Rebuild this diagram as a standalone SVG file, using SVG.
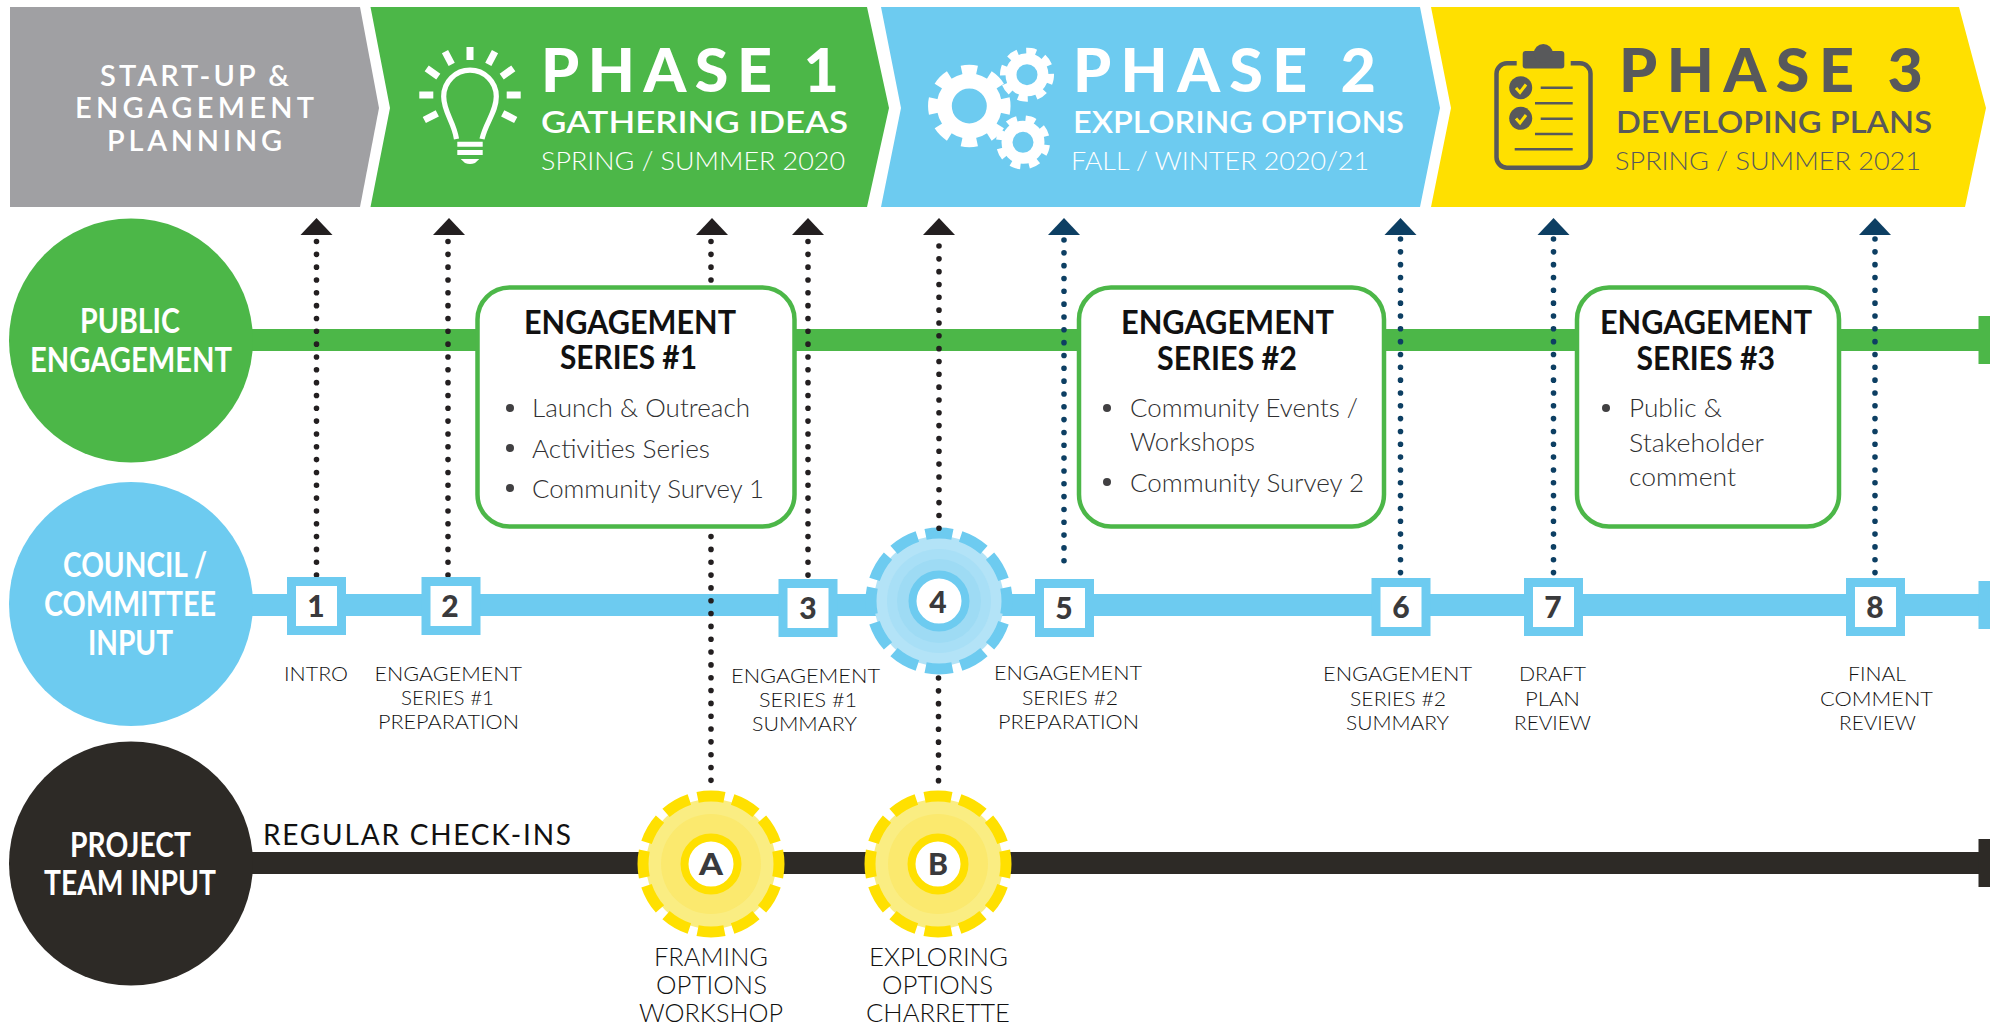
<svg xmlns="http://www.w3.org/2000/svg" width="1999" height="1028" viewBox="0 0 1999 1028">
<style>
text{font-family:"Lato","Liberation Sans",sans-serif}
.w{fill:#fff}.d{fill:#58595b}
.t1{font-size:61px;font-weight:900}
.t2{font-size:30px;font-weight:600}
.t3{font-size:25px;font-weight:300}
.st{font-size:29px;font-weight:600;fill:#fff}
.cl{font-size:35px;font-weight:700;fill:#fff}
.bh{font-size:33px;font-weight:700;fill:#111}
.bt{font-size:26px;font-weight:300;fill:#2f2f31}
.lb{font-size:20.500px;font-weight:300;fill:#111}
.lg{font-size:26px;font-weight:300;fill:#111}
.rc{font-size:28px;font-weight:400;fill:#111}
.num{font-size:30px;font-weight:900;fill:#3a3a3c;text-anchor:middle}
.box{fill:#fff;stroke:#4cb748;stroke-width:4.5}
.sq{fill:#fff;stroke:#6dcbf0;stroke-width:9}
.dot{fill:#414042}
.dk,.nv{fill:none;stroke-width:5.6;stroke-linecap:round;stroke-dasharray:0 12.83}
.dk{stroke:#231f20}.nv{stroke:#0d3f63}
.ak{fill:#231f20}.an{fill:#0d3f63}
.ringb,.ringy{fill:none;stroke-width:11;stroke-dasharray:7.6 2.4;stroke-dashoffset:3.8}
.ringb{stroke:#6dcbf0}.ringy{stroke:#ffe000}
.gt{fill:none;stroke:#fff;stroke-dasharray:5.4 4.6;stroke-dashoffset:2.7}
.gb{fill:none;stroke:#fff}
.ray{stroke:#fff;stroke-width:7;fill:none}
.cb{stroke:#58595b;fill:none;stroke-width:4.5}
.cln{stroke:#58595b;fill:none;stroke-width:2.6}
.chk{stroke:#ffe000;fill:none;stroke-width:3}
</style>

<g id="start-up">
<polygon points="10,7 360,7 379,108 360,207 10,207" fill="#a0a0a3"/>
<text class="st" x="100" y="86" textLength="189" lengthAdjust="spacing">START-UP &amp;</text>
<text class="st" x="75" y="118" textLength="239" lengthAdjust="spacing">ENGAGEMENT</text>
<text class="st" x="107" y="151" textLength="175" lengthAdjust="spacing">PLANNING</text>
</g>

<g id="phase-1">
<polygon points="370.5,7 867,7 889,108 867,207 370.5,207 390,108" fill="#4cb748"/>
<path class="ray" style="stroke-width:5.2" d="M456.5,139C454,122 443.7,112 443.7,96.5A26.3,26.3 0 0 1 496.3,96.5C496.3,112 486,122 482,139"/>
<path class="ray" d="M470,47V60M445,51.7L451.7,64.3M495,51.7L488.3,64.3M426.7,68.3L438.3,76.7M513.3,68.3L501.7,76.7M419.3,95H433.3M520.7,95H506.7M424.3,120L437.3,113.3M515.7,120L502.7,113.3"/>
<path fill="#fff" d="M457.3,141.7H482.7V146.7H457.3ZM457.3,150H482.7V155H457.3ZM460.7,159H479.3L475,163Q470,165 465,163Z"/>
<text class="t1 w" x="541" y="92" textLength="298" lengthAdjust="spacing">PHASE 1</text>
<text class="t2 w" x="541" y="133" textLength="307" lengthAdjust="spacingAndGlyphs">GATHERING IDEAS</text>
<text class="t3 w" x="541" y="170" textLength="304" lengthAdjust="spacingAndGlyphs">SPRING / SUMMER 2020</text>
</g>

<g id="phase-2">
<polygon points="881,7 1420,7 1440,108 1420,207 881,207 901,108" fill="#6dcbf0"/>
<circle class="gb" cx="969.3" cy="106" r="25" stroke-width="15"/>
<circle class="gt" cx="969.3" cy="106" r="36" stroke-width="10.5" pathLength="80"/>
<circle class="gb" cx="1027" cy="74.7" r="16" stroke-width="11"/>
<circle class="gt" cx="1027" cy="74.7" r="23.5" stroke-width="7" pathLength="80" transform="rotate(10 1027 74.7)"/>
<circle class="gb" cx="1023" cy="142.3" r="16" stroke-width="11"/>
<circle class="gt" cx="1023" cy="142.3" r="23.5" stroke-width="7" pathLength="80" transform="rotate(18 1023 142.3)"/>
<text class="t1 w" x="1073" y="92" textLength="303" lengthAdjust="spacing">PHASE 2</text>
<text class="t2 w" x="1073" y="133" textLength="331" lengthAdjust="spacingAndGlyphs">EXPLORING OPTIONS</text>
<text class="t3 w" x="1071" y="170" textLength="298" lengthAdjust="spacingAndGlyphs">FALL / WINTER 2020/21</text>
</g>

<g id="phase-3">
<polygon points="1431,7 1959,7 1986,108 1965,207 1431,207 1451,108" fill="#ffe000"/>
<path class="cb" d="M1516.7,63.3H1507A10.5,10.5 0 0 0 1496.5,73.8V157.2A10.5,10.5 0 0 0 1507,167.7H1580A10.5,10.5 0 0 0 1590.5,157.2V73.8A10.5,10.5 0 0 0 1580,63.3H1570.7"/>
<rect x="1522.7" y="51" width="41.6" height="17.5" rx="3" fill="#58595b"/>
<circle cx="1543.3" cy="53.5" r="9.5" fill="#58595b"/>
<circle cx="1520.7" cy="87.7" r="11.5" fill="#58595b"/>
<circle cx="1520.7" cy="118.3" r="11.5" fill="#58595b"/>
<path class="chk" d="M1516,88L1520,92.5L1526,84.5M1516,118.6L1520,123L1526,115"/>
<path class="cln" d="M1540.7,87.7H1572.7M1535,103.3H1572.7M1540.7,118.7H1572.7M1535,134H1572.7M1514.7,149.3H1572.7"/>
<text class="t1 d" x="1619" y="92" textLength="304" lengthAdjust="spacing">PHASE 3</text>
<text class="t2 d" x="1616" y="133" textLength="316" lengthAdjust="spacingAndGlyphs">DEVELOPING PLANS</text>
<text class="t3 d" x="1615" y="170" textLength="306" lengthAdjust="spacingAndGlyphs">SPRING / SUMMER 2021</text>
</g>

<g id="rails">
<rect x="240" y="329" width="1739" height="22" fill="#4cb748"/>
<rect x="1978.5" y="316" width="11.5" height="48" fill="#4cb748"/>
<rect x="240" y="594" width="1739" height="22" fill="#6dcbf0"/>
<rect x="1978.5" y="581" width="11.5" height="48" fill="#6dcbf0"/>
<rect x="240" y="852" width="1739" height="22" fill="#2d2a26"/>
<rect x="1978.5" y="839" width="11.5" height="48" fill="#2d2a26"/>
<text class="rc" x="263" y="845" textLength="308" lengthAdjust="spacing">REGULAR CHECK-INS</text>
</g>

<g id="public-engagement">
<circle cx="131" cy="340.500" r="122" fill="#4cb748"/>
<text class="cl" x="80" y="333" textLength="100" lengthAdjust="spacingAndGlyphs">PUBLIC</text>
<text class="cl" x="30" y="372" textLength="202" lengthAdjust="spacingAndGlyphs">ENGAGEMENT</text>
</g>
<g id="council-input">
<circle cx="131" cy="604" r="122" fill="#6dcbf0"/>
<text class="cl" x="63" y="577" textLength="144" lengthAdjust="spacingAndGlyphs">COUNCIL /</text>
<text class="cl" x="44" y="616" textLength="172" lengthAdjust="spacingAndGlyphs">COMMITTEE</text>
<text class="cl" x="88" y="655" textLength="85" lengthAdjust="spacingAndGlyphs">INPUT</text>
</g>
<g id="project-team-input">
<circle cx="131" cy="863.500" r="122" fill="#2d2a26"/>
<text class="cl" x="70" y="857" textLength="121" lengthAdjust="spacingAndGlyphs">PROJECT</text>
<text class="cl" x="44" y="895" textLength="172" lengthAdjust="spacingAndGlyphs">TEAM INPUT</text>
</g>

<g id="node-4">
<circle cx="939" cy="601" r="65" fill="#b3e3f7"/>
<circle cx="939" cy="601" r="52" fill="#a8dff6"/>
<circle cx="939" cy="601" r="42" fill="#9edbf4"/>
<circle cx="939" cy="601" r="68" class="ringb" pathLength="120"/>
<circle cx="939" cy="601" r="26.500" fill="#fff" stroke="#6dcbf0" stroke-width="8"/>
<text class="num" x="938" y="613">4</text>
</g>
<g id="node-a">
<circle cx="711" cy="864" r="65" fill="#faed82"/>
<circle cx="711" cy="864" r="50" fill="#fbe96e"/>
<circle cx="711" cy="864" r="68" class="ringy" pathLength="120"/>
<circle cx="711" cy="864" r="26.500" fill="#fff" stroke="#ffe000" stroke-width="8"/>
<text class="num" x="699" y="875" textLength="24" lengthAdjust="spacingAndGlyphs" style="text-anchor:start">A</text>
<text class="lg" x="654" y="966" textLength="114" lengthAdjust="spacingAndGlyphs">FRAMING</text>
<text class="lg" x="656" y="994" textLength="111" lengthAdjust="spacingAndGlyphs">OPTIONS</text>
<text class="lg" x="639" y="1022" textLength="144" lengthAdjust="spacingAndGlyphs">WORKSHOP</text>
</g>
<g id="node-b">
<circle cx="938" cy="864" r="65" fill="#faed82"/>
<circle cx="938" cy="864" r="50" fill="#fbe96e"/>
<circle cx="938" cy="864" r="68" class="ringy" pathLength="120"/>
<circle cx="938" cy="864" r="26.500" fill="#fff" stroke="#ffe000" stroke-width="8"/>
<text class="num" x="928" y="875" textLength="20" lengthAdjust="spacingAndGlyphs" style="text-anchor:start">B</text>
<text class="lg" x="869" y="966" textLength="139" lengthAdjust="spacingAndGlyphs">EXPLORING</text>
<text class="lg" x="882" y="994" textLength="111" lengthAdjust="spacingAndGlyphs">OPTIONS</text>
<text class="lg" x="866" y="1022" textLength="144" lengthAdjust="spacingAndGlyphs">CHARRETTE</text>
</g>

<g id="connectors">
<line class="dk" x1="316.500" y1="241.500" x2="316.500" y2="578"/>
<line class="dk" x1="448" y1="241.500" x2="448" y2="578"/>
<line class="dk" x1="711" y1="241.500" x2="711" y2="793"/>
<line class="dk" x1="808" y1="241.500" x2="808" y2="578"/>
<line class="dk" x1="939" y1="246" x2="939" y2="530"/>
<line class="dk" x1="938.500" y1="678" x2="938.500" y2="781"/>
<line class="nv" x1="1064" y1="240" x2="1064" y2="562"/>
<line class="nv" x1="1400.500" y1="239" x2="1400.500" y2="578"/>
<line class="nv" x1="1553.500" y1="239" x2="1553.500" y2="578"/>
<line class="nv" x1="1875" y1="239" x2="1875" y2="578"/>
<polygon class="ak" points="316.500,218 332.500,235 300.500,235"/>
<polygon class="ak" points="449,218 465,235 433,235"/>
<polygon class="ak" points="712,218 728,235 696,235"/>
<polygon class="ak" points="808,218 824,235 792,235"/>
<polygon class="ak" points="939,218 955,235 923,235"/>
<polygon class="an" points="1064,218 1080,235 1048,235"/>
<polygon class="an" points="1400.500,218 1416.500,235 1384.500,235"/>
<polygon class="an" points="1553.500,218 1569.500,235 1537.500,235"/>
<polygon class="an" points="1875,218 1891,235 1859,235"/>
</g>

<g id="series-1">
<rect class="box" x="477.500" y="287.500" width="317" height="239" rx="32"/>
<text class="bh" x="524" y="334" textLength="212" lengthAdjust="spacingAndGlyphs">ENGAGEMENT</text>
<text class="bh" x="560" y="369" textLength="137" lengthAdjust="spacingAndGlyphs">SERIES #1</text>
<circle class="dot" cx="510" cy="408" r="4"/><circle class="dot" cx="510" cy="448" r="4"/><circle class="dot" cx="510" cy="488" r="4"/>
<text class="bt" x="532" y="417" textLength="218" lengthAdjust="spacingAndGlyphs">Launch &amp; Outreach</text>
<text class="bt" x="532" y="458" textLength="178" lengthAdjust="spacingAndGlyphs">Activities Series</text>
<text class="bt" x="532" y="498" textLength="232" lengthAdjust="spacingAndGlyphs">Community Survey 1</text>
</g>
<g id="series-2">
<rect class="box" x="1079" y="287.500" width="305" height="239" rx="32"/>
<text class="bh" x="1121" y="334" textLength="213" lengthAdjust="spacingAndGlyphs">ENGAGEMENT</text>
<text class="bh" x="1157" y="370" textLength="140" lengthAdjust="spacingAndGlyphs">SERIES #2</text>
<circle class="dot" cx="1107" cy="408" r="4"/><circle class="dot" cx="1107" cy="482" r="4"/>
<text class="bt" x="1130" y="417" textLength="228" lengthAdjust="spacingAndGlyphs">Community Events /</text>
<text class="bt" x="1130" y="451" textLength="125" lengthAdjust="spacingAndGlyphs">Workshops</text>
<text class="bt" x="1130" y="492" textLength="234" lengthAdjust="spacingAndGlyphs">Community Survey 2</text>
</g>
<g id="series-3">
<rect class="box" x="1577" y="287.500" width="262" height="239" rx="32"/>
<text class="bh" x="1600" y="334" textLength="212" lengthAdjust="spacingAndGlyphs">ENGAGEMENT</text>
<text class="bh" x="1636.500" y="370" textLength="138.500" lengthAdjust="spacingAndGlyphs">SERIES #3</text>
<circle class="dot" cx="1606" cy="408" r="4"/>
<text class="bt" x="1629" y="417" textLength="93" lengthAdjust="spacingAndGlyphs">Public &amp;</text>
<text class="bt" x="1629" y="452" textLength="135" lengthAdjust="spacingAndGlyphs">Stakeholder</text>
<text class="bt" x="1629" y="486" textLength="107" lengthAdjust="spacingAndGlyphs">comment</text>
</g>

<g id="step-1">
<rect class="sq" x="291.500" y="581.500" width="50" height="49"/>
<text class="num" x="316" y="617">1</text>
<text class="lb" x="284" y="681" textLength="64" lengthAdjust="spacingAndGlyphs">INTRO</text>
</g>
<g id="step-2">
<rect class="sq" x="426" y="581.500" width="50" height="49"/>
<text class="num" x="450" y="617">2</text>
<text class="lb" x="374.500" y="681" textLength="147.500" lengthAdjust="spacingAndGlyphs">ENGAGEMENT</text>
<text class="lb" x="401" y="705" textLength="93" lengthAdjust="spacingAndGlyphs">SERIES #1</text>
<text class="lb" x="378" y="729" textLength="141" lengthAdjust="spacingAndGlyphs">PREPARATION</text>
</g>
<g id="step-3">
<rect class="sq" x="783" y="583.500" width="50" height="49"/>
<text class="num" x="808" y="619">3</text>
<text class="lb" x="731" y="683" textLength="149" lengthAdjust="spacingAndGlyphs">ENGAGEMENT</text>
<text class="lb" x="759" y="707" textLength="98" lengthAdjust="spacingAndGlyphs">SERIES #1</text>
<text class="lb" x="752" y="731" textLength="105" lengthAdjust="spacingAndGlyphs">SUMMARY</text>
</g>
<g id="step-5">
<rect class="sq" x="1039.500" y="583.500" width="50" height="49"/>
<text class="num" x="1064" y="619">5</text>
<text class="lb" x="994" y="680" textLength="148" lengthAdjust="spacingAndGlyphs">ENGAGEMENT</text>
<text class="lb" x="1022" y="705" textLength="96" lengthAdjust="spacingAndGlyphs">SERIES #2</text>
<text class="lb" x="998" y="729" textLength="141" lengthAdjust="spacingAndGlyphs">PREPARATION</text>
</g>
<g id="step-6">
<rect class="sq" x="1376" y="582.500" width="50" height="49"/>
<text class="num" x="1401" y="618">6</text>
<text class="lb" x="1323" y="681" textLength="149" lengthAdjust="spacingAndGlyphs">ENGAGEMENT</text>
<text class="lb" x="1350" y="706" textLength="96" lengthAdjust="spacingAndGlyphs">SERIES #2</text>
<text class="lb" x="1346" y="730" textLength="103" lengthAdjust="spacingAndGlyphs">SUMMARY</text>
</g>
<g id="step-7">
<rect class="sq" x="1528.500" y="582.500" width="50" height="49"/>
<text class="num" x="1553" y="618">7</text>
<text class="lb" x="1519" y="681" textLength="67" lengthAdjust="spacingAndGlyphs">DRAFT</text>
<text class="lb" x="1525" y="706" textLength="55" lengthAdjust="spacingAndGlyphs">PLAN</text>
<text class="lb" x="1514" y="730" textLength="77" lengthAdjust="spacingAndGlyphs">REVIEW</text>
</g>
<g id="step-8">
<rect class="sq" x="1850.500" y="582.500" width="50" height="49"/>
<text class="num" x="1875" y="618">8</text>
<text class="lb" x="1848" y="681" textLength="58" lengthAdjust="spacingAndGlyphs">FINAL</text>
<text class="lb" x="1820" y="706" textLength="113" lengthAdjust="spacingAndGlyphs">COMMENT</text>
<text class="lb" x="1839" y="730" textLength="77" lengthAdjust="spacingAndGlyphs">REVIEW</text>
</g>
</svg>
